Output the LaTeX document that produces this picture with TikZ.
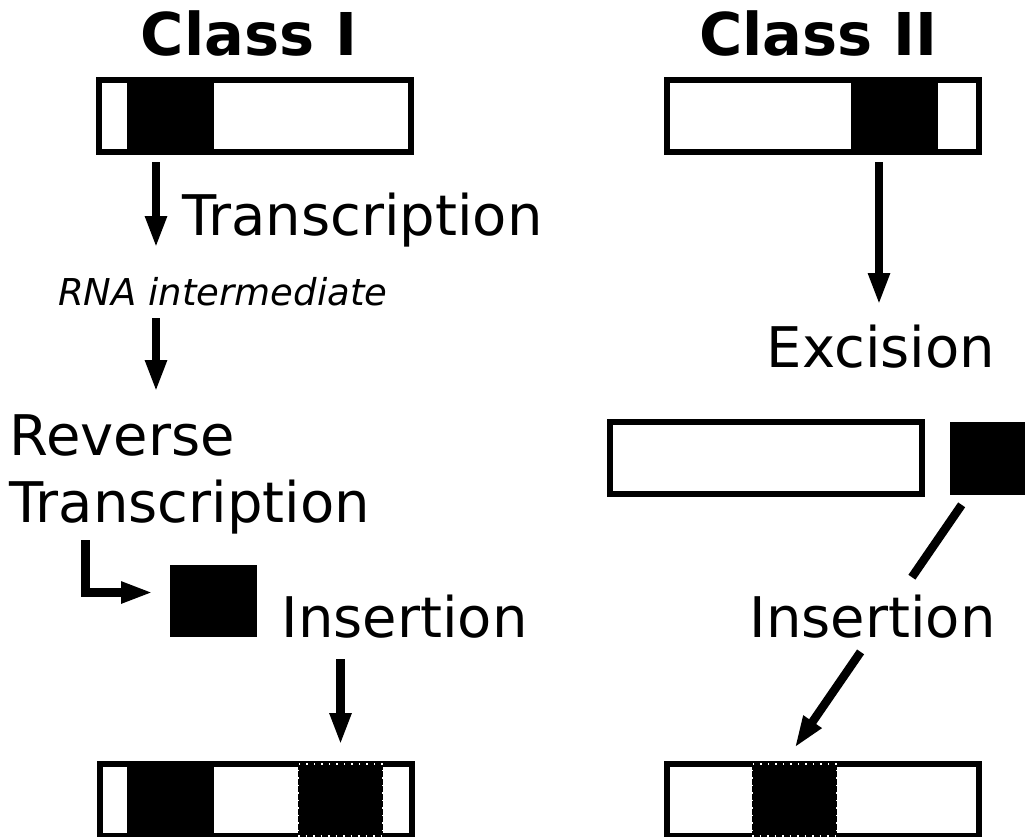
\documentclass[tikz,border=0pt]{standalone}
\usepackage{fontspec}
\setmainfont{DejaVu Sans}
\usetikzlibrary{arrows.meta,calc}

\tikzset{
  gene/.style={draw, line width=6pt, fill=white, minimum width=312pt,
    minimum height=72pt, inner sep=0pt, outer sep=0pt},
  te/.style={fill=black, minimum width=87pt, minimum height=72pt,
    inner sep=0pt, outer sep=0pt},
  newte/.style={te, minimum width=85pt, draw=white, line width=1.5pt,
    dash pattern=on 1.5pt off 6pt},
  heading/.style={inner sep=0pt, anchor=base,
    font=\bfseries\fontsize{59pt}{70pt}\selectfont},
  txt/.style={inner sep=0pt, anchor=base west,
    font=\fontsize{56pt}{67pt}\selectfont},
  arr/.style={line width=8.5pt, -{Triangle[width=20pt,length=32pt]}},
  link/.style={line width=8.5pt},
}

\begin{document}
\begin{tikzpicture}[x=1pt, y=-1pt]
    \useasboundingbox (0,0) rectangle (1025,836);
    % ---- Class I ----
    \node[heading] (headI) at (249,55) {Class I};
    \node[gene] (geneI) at (255,116) {};
    \node[te] (teI) at (170.5,116) {};
    \coordinate (colI) at (156,0);
    \node[txt] (trI) at (182,235) {Transcription};
    \node[txt, font=\itshape\fontsize{37pt}{44pt}\selectfont] (rna) at (58,305) {RNA intermediate};
    \node[txt, align=left] (rt) at (9.5,522) {Reverse\\Transcription};
    \node[te] (teM) at (213.5,600.5) {};
    \node[txt] (insI) at (281.5,637) {Insertion};
    \node[gene] (geneI2) at (255.5,800) {};
    \node[te] (teI2) at (170.5,800) {};
    \node[newte] (insI2) at (340.5,800) {};
    \coordinate (elbow) at (85.5,540);
    \draw[arr] ($(geneI.south -| colI)+(0,10)$) -- ($(rna.base -| colI)+(0,-57)$);
    \draw[arr] ($(rna.base -| colI)+(0,13)$) -- ($(rt.base -| colI)+(0,-130)$);
    \draw[arr] (elbow) |- ($(teM.west)+(-17,-8)$);
    \draw[arr] ($(insI.base -| insI2)+(0,22)$) -- ($(geneI2.north -| insI2)+(0,-19)$);
    % ---- Class II ----
    \node[heading] (headII) at (818,55) {Class II};
    \node[gene] (geneII) at (822.5,116) {};
    \node[te] (teII) at (894.5,116) {};
    \coordinate (colII) at (879,0);
    \node[txt] (exc) at (766.5,367) {Excision};
    \node[gene] (geneX) at (766,458) {};
    \node[te, minimum height=73pt] (teR) at (993.5,458.5) {};
    \node[txt] (insR) at (749.5,637) {Insertion};
    \node[gene] (geneII2) at (823,800) {};
    \node[newte] (insII2) at (794.5,800) {};
    \coordinate (drop) at ($(insII2.north)+(0,-16)$);
    \draw[arr] ($(geneII.south -| colII)+(0,10)$) -- ($(exc.base -| colII)+(0,-62)$);
    \draw[link] ($(teR)!0.16!(drop)$) -- ($(teR)!0.41!(drop)$);
    \draw[arr] ($(teR)!0.668!(drop)$) -- (drop);
\end{tikzpicture}
\end{document}
